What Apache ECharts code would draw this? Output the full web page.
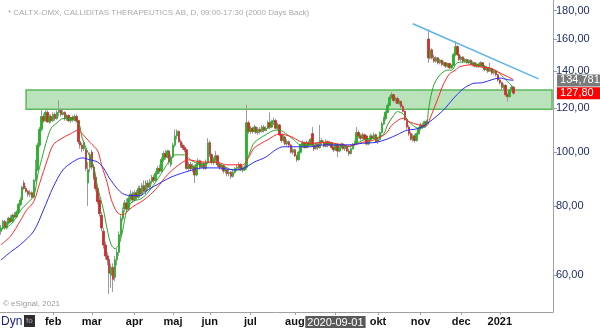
<!DOCTYPE html>
<html><head><meta charset="utf-8">
<script src="https://cdn.jsdelivr.net/npm/echarts@6/dist/echarts.min.js"></script>
<style>html,body{margin:0;padding:0;background:#fff}#c{width:600px;height:328px}</style>
</head><body><div id="c"></div>
<script>
// ---- data ----
const holidays = ['2019-12-24','2019-12-25','2019-12-26','2019-12-31','2020-01-01','2020-01-06','2020-04-10','2020-04-13','2020-05-01','2020-05-21','2020-06-19','2020-12-24','2020-12-25','2020-12-31','2021-01-01','2021-01-06'];
const monthNames = ['jan','feb','mar','apr','maj','jun','jul','aug','sep','okt','nov','dec'];
const yTicks = [60,80,100,120,140,160,180];
// [open, close, low, high]
const candles = [
[72,73,71,74],[73,75,72.5,75.5],[75,73,72.5,75.5],[73,74.5,72.5,75],[74.5,76,74,76.5],[76,75,74.5,77],[75,77,74.5,77.5],[77,76.5,76,78],[76.5,78,76,78.5],[78,80.5,77.5,81],
[80.5,82,80,83],[82,86.5,81.5,87],[88,86,85.5,89],[86,85,84.5,87],[85,84,83,85.5],[84,84.5,83,85.5],[84.5,83,82.5,85],[83,89,82.5,89.5],[89,93,88.5,97],[93,103,92.5,104],
[103,110,102,111],[110,116,109,119],[116,114,113,117.5],[114,118,113.5,119],[118,113.5,113,119],[113.5,116,112.5,117],[116,114,113,117],[114,117,113.5,118],[117,115,114,118],[115,118,114.5,119],
[118,119,116,124],[119,117,116,120],[117,118,116.5,119],[118,115,114,118.5],[115,116.5,114,117],[116.5,114,113.5,117],[114,115.5,113,116],[115.5,114.5,113.5,116.5],[114.5,116,114,117],[116,114,113,117],
[114,104.5,103.5,114.5],[104.5,103,101.5,106],[103,101.5,100,104],[101.5,104,100.5,105],[101,93.5,92.5,102],[88,93,80,96],[94,99,92,100],[100,94,93,101],[94,90,89,95],[90,86,85,91],
[86,81.5,80.5,87],[82,77.5,76.5,83],[77,73,72,78],[72,68,67,73],[68,65,64,69],[65,64,62.5,66],[64,60.5,55.5,65],[60,62,57,63],[62,59,56,63],[59.5,64,58.5,65],
[64,66,62.5,67],[66,71,65,72],[71,76,70,77],[76,78.5,75,79.5],[79,81,78,82],[81,79,78,82.5],[79,82.5,78.5,83.5],[82.5,84,81.5,85.5],[84,82,81,85],[82,84.5,81.5,85.5],
[84.5,83,82,85.5],[83,86,82.5,87],[86,84,83,87],[84,87,83.5,88],[87,85,84.5,89],[85,88,84,89],[88,86.5,85.5,89],[86.5,88.5,86,89.5],[88.5,90,87.5,91],[90,89,88,91],
[89,91.5,88.5,92.5],[91.5,93.5,91,94.5],[93.5,92.5,91.5,95],[92.5,97,92,98],[97,99.5,96,100.5],[99.5,98,97,101],[98,100.5,97.5,101],[100.5,96,95,101],[95,98,94,99],[98,103,97.5,104],
[103,107,102,110],[107,109,105.5,110],[109,104.5,104,109.5],[104.5,103,102,105.5],[103,102,101,104],[102,101,100,103],[101,93.5,93,101.5],[93.5,95,92.5,96],[95,93.5,92.5,96],[93.5,94.5,92,95.5],
[94,91,88,95],[91,95,90.5,96],[95,96.5,94,97.5],[96.5,94,93,97],[94,95.5,93.5,96.5],[95.5,93.5,93,96],[93.5,96,93,97],[96,104,95.5,106],[104,99,98,105],[99,96,95,99.5],
[96,97,95,98],[97,98.5,96,100.5],[98.5,95,94,99],[95,94,93,96],[94,94.5,93,95.5],[94.5,92.5,91.5,95],[92.5,93,91.5,94],[93,91.5,90.5,93.5],[91.5,92,90.5,93],[92,90.5,89.5,92.5],
[90.5,92,90,93],[92,93.5,91.5,94],[93.5,94,92.5,95],[94,95,93,96],[95,93.5,92.5,95.5],[93.5,93,92,94.5],[93,94,92.5,95],[94,113,93,121.8],[113,109,108,114],[109,110.5,108,111.5],
[110.5,109,108,111],[109,111,108.5,112],[111,108.5,108,111.5],[108.5,110,107.5,111],[110,109,108,111],[109,111,108.5,112],[111,109.5,108.5,112],[109.5,110.5,109,111.5],[110.5,113,110,114],[113,111,110,118],
[111,113.5,110.5,114.5],[113.5,114,112,115.5],[114,110.5,110,115],[110.5,112,109.5,113],[112,107.5,107,112.5],[107.5,105,104,108],[105,106.5,104,107.5],[106.5,103.5,103,107],[103.5,104.5,102.5,105.5],[104.5,103,102,105],
[103,100,99.5,103.5],[100,101,99,102],[101,98.5,98,101.5],[98.5,97,96,99],[97,100,96.5,100.5],[100,103,99.5,103.5],[103,104,102,105],[104,102,101.5,104.5],[102,104,101.5,105],[104,103,102,105],
[103,105.5,102.5,106],[108,103,102.5,111],[103,101.5,100.5,104],[101.5,103.5,101,104],[103.5,102,101,104],[102,105,101.5,112],[105,104,103,106],[104,102.5,102,105],[102.5,104.5,102,105.5],[104.5,103,102,105],
[103,104,102.5,105],[104,102,101.5,104.5],[102,101,100,103],[101,103,100.5,104],[103,100.5,98,103.5],[100.5,102,100,103],[102,103.5,101.5,104],[103.5,101.5,101,104],[101.5,102.5,100.5,103.5],[102.5,100.5,100,103],
[100.5,99.5,98.5,101.5],[99.5,101.5,99,102],[101.5,103.5,101,104],[103.5,104,102.5,105],[104,108.5,103.5,111],[108.5,107,106,109.5],[107,106,105,108],[106,107.5,105.5,108.5],[107.5,105.5,105,108],[107,103.5,103,107.5],
[103.5,105,103,106],[105,107,104.5,108],[107,106,105,107.5],[106,107.5,105.5,108.5],[107.5,104.5,104,108],[104.5,105.5,103.5,106.5],[105.5,108.5,105,109],[108.5,112.5,108,113.5],[112.5,115,112,116],[115,118,114,119],
[118,121.5,117.5,122.5],[121.5,125.5,121,126.5],[125.5,127,124.5,128.5],[127,124,123,127.5],[124,125,122.5,126],[125,122.5,122,126],[122.5,123.5,121.5,124.5],[123.5,121,120,124],[121,118.5,118,122],[118.5,114.5,114,119],
[114.5,111,110,115],[111,108,107,112],[108,105.5,105,109],[105.5,107,104.5,108],[107,105,104,108],[105,108,104.5,108.5],[108,110.5,107.5,111],[110.5,112,109.5,113],[112,111,110,113],[111,113.5,110.5,114],
[113.5,113,112,114.5],[160,148,145,166.5],[148,153,147,154],[153,148,147,154],[148,146,145,150],[146,148,145,149],[148,145,144,148.5],[145,146.5,144,147.5],[146.5,144,143,147],[144,145,143,146],
[145,143,142,145.5],[143,144.5,142,145],[144.5,142,141.5,145],[142,143.5,141.5,144],[143.5,150,143,151],[150,155,149,158.5],[155,150,149,156],[150,147,146,150.5],[147,148.5,146,149.5],[148.5,146,145,149],
[146,147,145,148],[147,145,144.5,147.5],[145,146.5,144,147],[146.5,144,143.5,147],[144,145,143,146],[145,143,142.5,145.5],[143,144,142,145],[144,143,142,145],[143,145,142.5,146],[145,143,142,145.5],
[143,141,140,143.5],[141,142,140,143],[142,140,139,142.5],[140,141.5,139.5,145],[141.5,139,138,142],[139,140,138,141],[140,138,137,140.5],[138,135,134,138.5],[135,133.5,132.5,136],[133.5,131,130,134],
[131,132,130,133],[132,127,126,132.5],[127,126,123.5,128],[126,129.5,125.5,130],[129.5,131,128.5,132],[131,127.8,127,131.5]
];
// moving averages: [trading-day index, value]
const maGreen = [[0,72.8],[5,74],[10,78.4],[12,79.9],[17,83.5],[19,91],[21,97],[24,106],[26,110.5],[29,113],[32,115],[34,115],[40,113],[42,106],[45,99.9],[48,94],[50,86.5],[53,78.7],[55,72.4],[57,68.1],[59,67],[61,68.1],[63,72.4],[65,78.4],[68,81.5],[72,82.3],[75,83.8],[80,88.3],[85,94],[90,98.9],[95,98.9],[98,96.9],[104,94.9],[109,96],[114,94.9],[120,92.9],[126,92.9],[127,96],[129,100.5],[131,104],[137,107.6],[142,109.6],[144,109.6],[148,107.6],[151,105.7],[155,103.1],[160,103.1],[165,104.2],[170,103.8],[175,103.1],[180,102.3],[184,103.8],[189,105.7],[194,106.1],[198,108],[200,112.2],[203,116.4],[205,118.4],[208,117.2],[211,113.5],[216,110.5],[220,112],[221,118.5],[222,124.5],[223,129],[224,132.5],[226,136.5],[228,139],[231,140.6],[233,140.6],[236,145],[241,145.5],[246,143.8],[251,142.5],[257,139.6],[260,136.4],[265,131]];
const maRed = [[0,68.1],[5,70.6],[10,75.2],[13,78.4],[17,81.5],[20,87.9],[24,96.9],[27,103.1],[31,105.7],[36,108],[40,109.6],[42,108],[46,104.2],[50,100.6],[52,94.9],[55,87.9],[57,82.3],[60,78],[63,77.1],[65,78],[68,79.7],[72,81.2],[76,83.1],[81,86.5],[86,91],[92,94.9],[97,96.9],[104,96],[111,96],[117,94.9],[125,94.9],[128,97.7],[131,101.8],[138,105.3],[144,107.9],[150,106.7],[155,104.5],[160,103.8],[168,104.2],[175,103.4],[180,102.6],[187,104.2],[193,105.3],[199,108],[202,111.7],[205,114],[208,115.2],[211,113.5],[216,112.1],[220,111.5],[222,115.3],[226,125.1],[229,133],[232,138.5],[235,140.6],[237,142.5],[243,143.8],[248,142.5],[253,141.9],[257,139.6],[262,136.9],[265,135.2]];
const maBlue = [[0,63.9],[5,66.1],[10,68.1],[17,72.1],[22,78.7],[27,86.5],[32,92.9],[37,96],[42,97.7],[46,96.9],[50,96],[53,93.7],[56,89.9],[60,86.1],[63,84.2],[67,83.5],[72,83.5],[76,85.5],[83,88.3],[88,90.2],[95,92],[104,93.7],[112,93.7],[121,92.9],[126,93.7],[131,96],[137,98],[142,101],[146,102.3],[153,102.3],[160,102.3],[167,103.1],[174,103.1],[180,103.1],[187,103.8],[194,104.2],[200,105.7],[205,107.6],[210,109.6],[214,110],[218,111.2],[223,114.4],[229,119.3],[234,125],[239,130.1],[244,133],[249,133.5],[254,135.2],[258,136.1],[262,135.2],[265,134.78182]];
const trendLine = [[213,170.5],[278,135.6]];
const zoneIdx = [13, 285];
const zonePrice = [119.5, 129.5];

// ---- categories (trading days) ----
const dates = [];
{
  let t = Date.UTC(2019,11,18);
  const end = Date.UTC(2021,1,11);
  while (t <= end) {
    const d = new Date(t), wd = d.getUTCDay(), s = d.toISOString().slice(0,10);
    if (wd !== 0 && wd !== 6 && holidays.indexOf(s) < 0) dates.push(s);
    t += 86400000;
  }
}
const labelIdx = new Set();
for (let i = 1; i < dates.length; i++) {
  if (dates[i].slice(0,7) !== dates[i-1].slice(0,7) && dates[i] >= '2020-02-01' && dates[i] < '2021-01-31') labelIdx.add(i);
}
const bodies = candles.map(c => [c[0], c[1], Math.min(c[0],c[1]), Math.max(c[0],c[1])]);
const lastIdx = candles.length - 1;
const lastClose = candles[lastIdx][1];
const blueLast = maBlue[maBlue.length-1][1];
const FONT = 'Liberation Sans, Arial, sans-serif';

const chart = echarts.init(document.getElementById('c'), null, {renderer:'canvas'});
chart.setOption({
  animation: false,
  backgroundColor: '#fff',
  title: {text: '* CALTX-OMX, CALLIDITAS THERAPEUTICS AB, D, 09:00-17:30 (2000 Days Back)', left: 3, top: 4,
    textStyle: {fontSize: 8, fontWeight: 'normal', color: '#a9a9a9', fontFamily: FONT}},
  grid: {left: 0, right: 47, top: 0, bottom: 15},
  xAxis: {
    type: 'category', data: dates, boundaryGap: true,
    axisLine: {lineStyle: {color: '#a0a0a0', width: 1}},
    axisTick: {show: true, alignWithLabel: true, length: 3, interval: (i) => labelIdx.has(i), lineStyle: {color: '#a0a0a0'}},
    axisLabel: {
      interval: (i) => labelIdx.has(i), margin: 4, fontSize: 11, fontWeight: 'bold', color: '#111', fontFamily: FONT,
      formatter: (v) => {
        const y = +v.slice(0,4), m = +v.slice(5,7);
        if (m === 1) return String(y);
        if (m === 9 && y === 2020) return '{cur|' + v + '}';
        return monthNames[m-1];
      },
      rich: {cur: {backgroundColor: '#5a5a5a', color: '#fff', fontWeight: 'normal', fontSize: 11, padding: [1,2,0,2], fontFamily: FONT}}
    },
    splitLine: {show: false}
  },
  yAxis: {
    type: 'log', logBase: 10, position: 'right', min: 51.5, max: 188.2,
    axisLine: {show: true, lineStyle: {color: '#a0a0a0'}},
    axisTick: {show: true, length: 4, customValues: yTicks, lineStyle: {color: '#a0a0a0'}},
    axisLabel: {customValues: yTicks, margin: 3, fontSize: 11, color: '#1f2d66', fontFamily: FONT,
      formatter: (v) => Number(v).toFixed(2).replace('.', ',')},
    splitLine: {show: false}
  },
  series: [
    {
      name: 'wicks', type: 'candlestick', data: candles, barWidth: 2,
      itemStyle: {color: '#9a9a9a', color0: '#9a9a9a', borderColor: '#9a9a9a', borderColor0: '#9a9a9a', borderWidth: 1},
      markArea: {silent: true, itemStyle: {color: 'rgba(120,200,120,0.5)', borderColor: '#5cb85c', borderWidth: 1.5},
        data: [[{xAxis: zoneIdx[0], yAxis: zonePrice[1]}, {xAxis: zoneIdx[1], yAxis: zonePrice[0]}]]}
    },
    {
      name: 'bodies', type: 'candlestick', data: bodies, barWidth: 2,
      itemStyle: {color: '#1fb81f', color0: '#d62828', borderColor: '#1fb81f', borderColor0: '#d62828', borderWidth: 0.5}
    },
    {name: 'ma1', type: 'line', data: maGreen, smooth: 0.3, showSymbol: false, lineStyle: {color: '#2aa52a', width: 1}, z: 3},
    {name: 'ma2', type: 'line', data: maRed, smooth: 0.3, showSymbol: false, lineStyle: {color: '#ff2a2a', width: 1}, z: 3},
    {name: 'ma3', type: 'line', data: maBlue, smooth: 0.3, showSymbol: false, lineStyle: {color: '#2b2bff', width: 1}, z: 3,
      markLine: {symbol: 'none', silent: true, lineStyle: {color: 'rgba(0,0,0,0)', width: 0},
        data: [[{coord: [lastIdx, blueLast]}, {coord: [zoneIdx[1], blueLast],
          label: {show: true, position: 'end', distance: 5, formatter: () => String(blueLast).replace('.', ','),
            backgroundColor: '#7a7a7a', color: '#fff', fontSize: 11, padding: [1,8,0,3], fontFamily: FONT}}]]}},
    {name: 'last', type: 'line', data: [[lastIdx, lastClose]], showSymbol: false, lineStyle: {width: 0}, z: 5,
      markLine: {symbol: 'none', silent: true, lineStyle: {color: 'rgba(0,0,0,0)', width: 0},
        data: [[{coord: [lastIdx, lastClose]}, {coord: [zoneIdx[1], lastClose],
          label: {show: true, position: 'end', distance: 5, formatter: () => lastClose.toFixed(2).replace('.', ','),
            backgroundColor: '#ff0000', color: '#fff', fontSize: 11, padding: [1,20,0,3], fontFamily: FONT}}]]}},
    {name: 'trend', type: 'line', data: trendLine, showSymbol: false, lineStyle: {color: '#5ab4ea', width: 1.5}, z: 4}
  ],
  graphic: [
    {type: 'text', left: 3, top: 300, style: {text: '© eSignal, 2021', fontSize: 8, fill: '#9a9a9a', fontFamily: FONT}},
    {type: 'text', left: 1, top: 316, style: {text: 'Dyn', fontSize: 12, fill: '#1a2580', fontFamily: FONT}},
    {type: 'rect', left: 24, top: 315, shape: {width: 11, height: 12}, style: {fill: '#2e2e2e'}},
    {type: 'text', left: 26, top: 317, style: {text: 'fo', fontSize: 8, fill: '#aaa', fontFamily: FONT}}
  ]
});
</script></body></html>
